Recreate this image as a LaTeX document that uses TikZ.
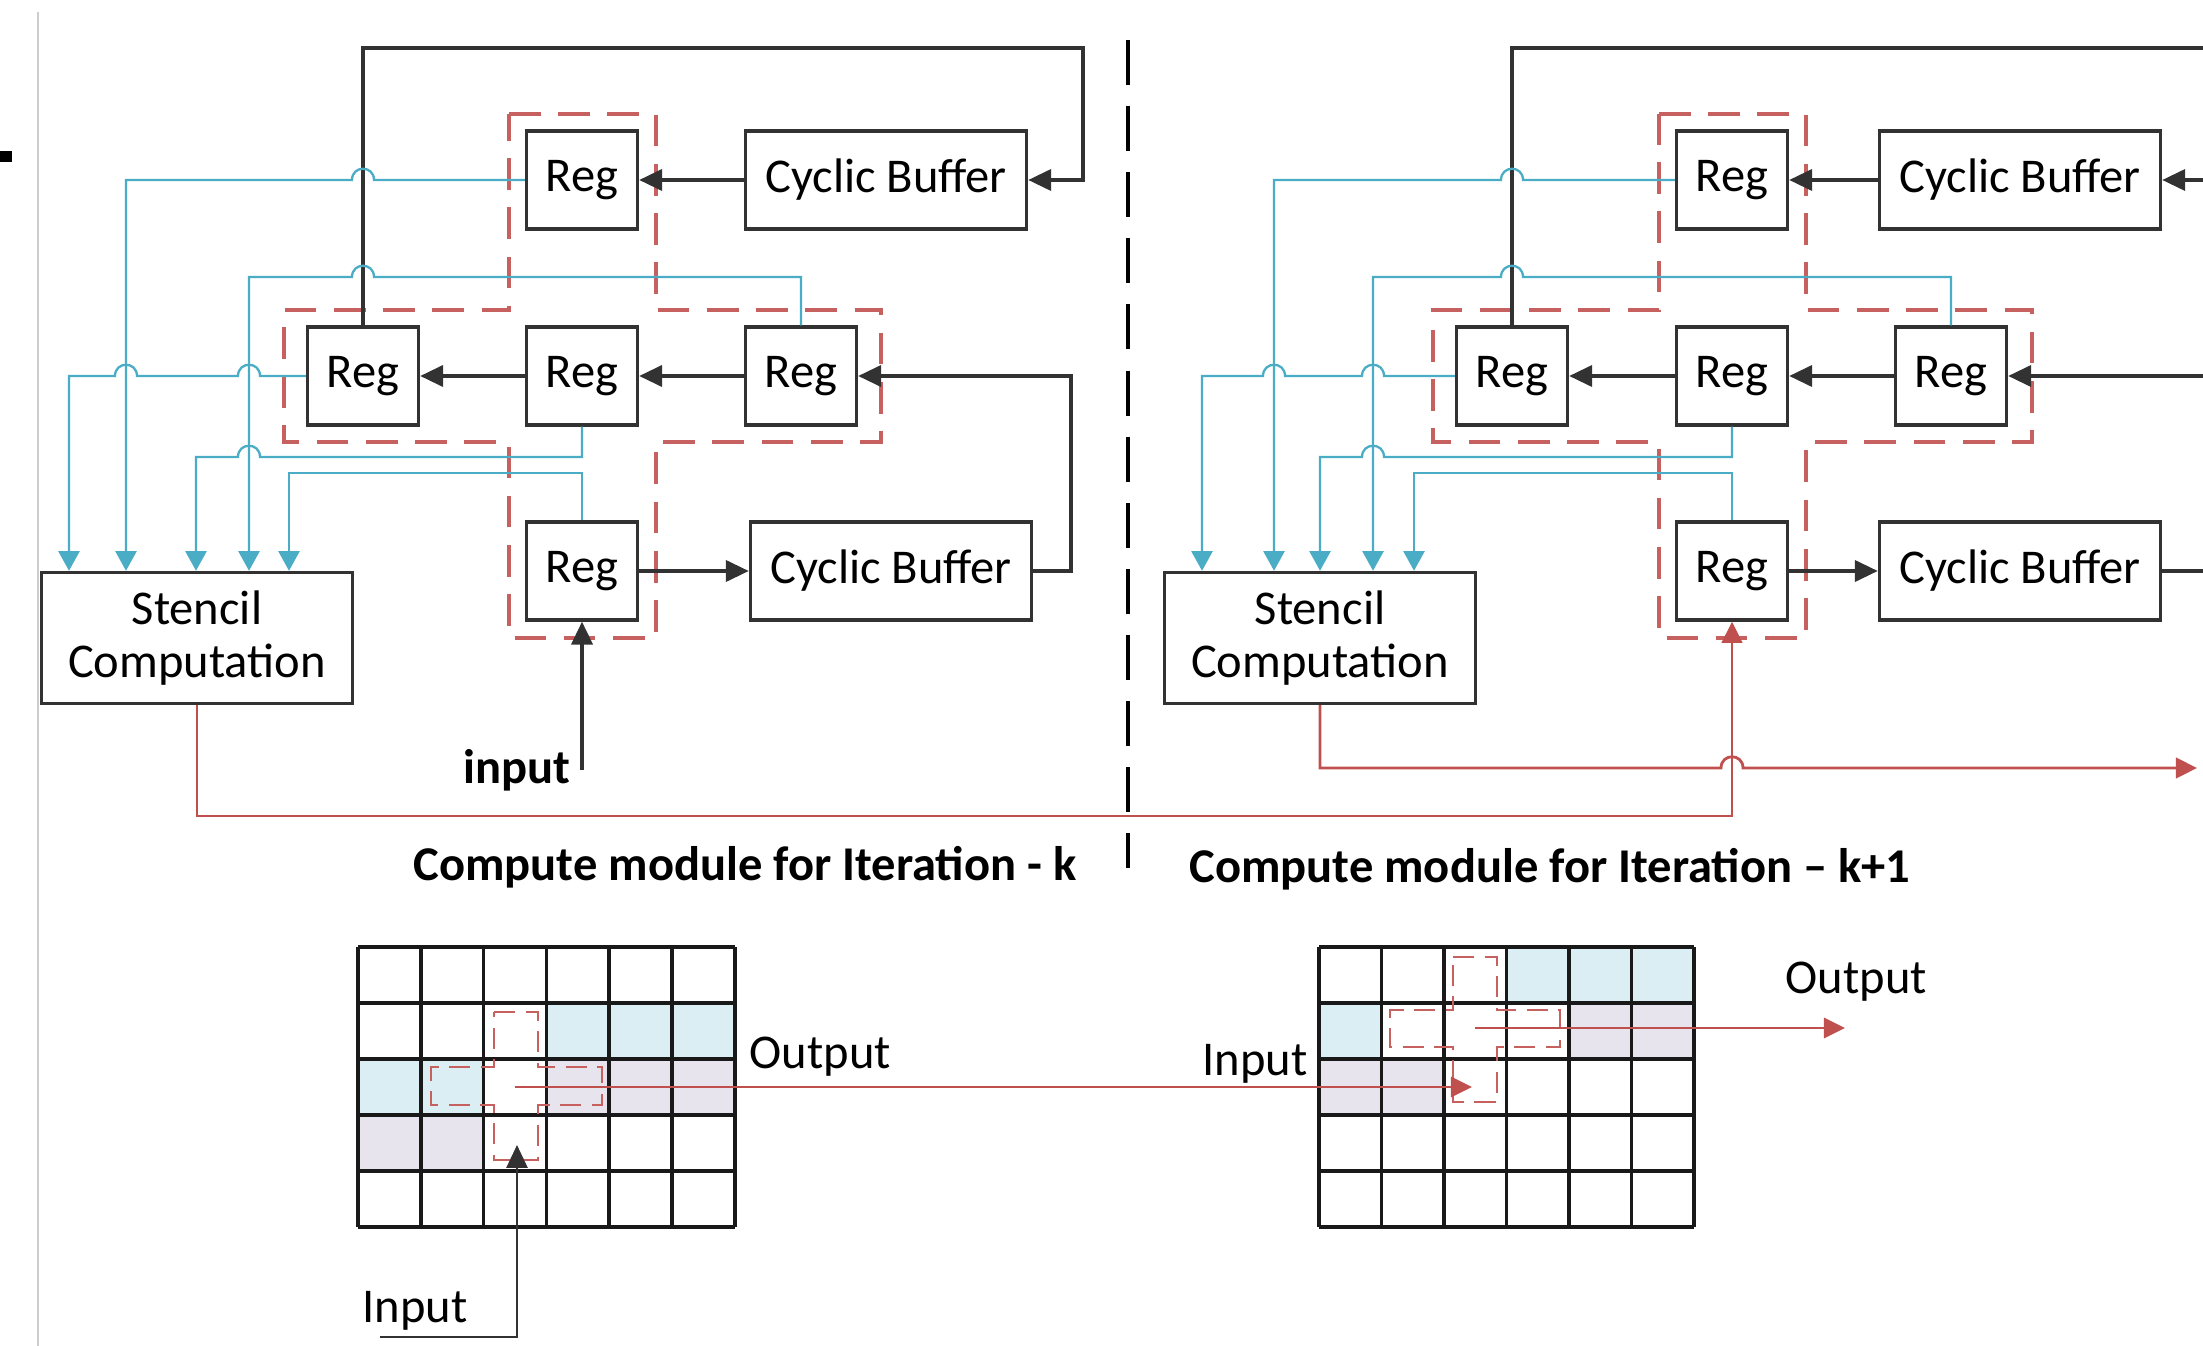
\documentclass[tikz,border=0pt]{standalone}
\usepackage{fontspec}
\setmainfont{Carlito}
\usepackage{tikz}
\usetikzlibrary{arrows.meta,positioning}

\definecolor{tapblue}{RGB}{75,172,198}
\definecolor{resred}{RGB}{192,80,77}
\definecolor{cellblue}{RGB}{218,238,243}
\definecolor{celllilac}{RGB}{232,228,238}
\definecolor{wiregray}{RGB}{50,50,50}

\newcommand{\labelsize}{\fontsize{13.8}{15.1}\selectfont}
% small bump where a line jumps over another one
\newcommand{\hopl}[2]{-- (#1+11,#2) .. controls (#1+11,#2-15) and (#1-11,#2-15) .. (#1-11,#2)}
\newcommand{\hopr}[2]{-- (#1-11,#2) .. controls (#1-11,#2-15) and (#1+11,#2-15) .. (#1+11,#2)}

\tikzset{
  regbox/.style={draw=wiregray, line width=0.95pt, minimum width=1.11cm, minimum height=0.98cm, inner sep=0pt},
  bufbox/.style={regbox, minimum width=2.81cm},
  stencilbox/.style={regbox, minimum width=3.11cm, minimum height=1.31cm, align=center},
  wire/.style={draw=wiregray, line width=0.95pt},
  dataflow/.style={wire, -{Triangle[length=6.5pt,width=6pt]}},
  tap/.style={draw=tapblue, line width=0.65pt, -{Triangle[length=5.6pt,width=6pt]}},
  result/.style={draw=resred, line width=0.8pt, -{Triangle[length=6pt,width=5.8pt]}},
  window/.style={draw=resred!90, line width=1.1pt, dash pattern=on 9pt off 5pt},
  cellwindow/.style={draw=resred!90, line width=0.7pt, dash pattern=on 6pt off 3pt},
  gridline/.style={draw=black!90, line width=1pt}
}

\begin{document}
\begin{tikzpicture}[x=0.01cm, y=-0.01cm, font=\labelsize]
  \useasboundingbox (0,0) rectangle (2203,1346);

  % page edge
  \draw[black!20, line width=0.6pt] (38,12) -- (38,1346);
  \fill (0,151) rectangle (12,162);

  % sliding windows
  \draw[window] (509,114) -- (656,114) -- (656,310) -- (881,310) -- (881,442) -- (656,442) -- (656,638)
    -- (509,638) -- (509,442) -- (284,442) -- (284,310) -- (509,310) -- cycle;
  \draw[window] (1659,114) -- (1806,114) -- (1806,310) -- (2032,310) -- (2032,442) -- (1806,442) -- (1806,638)
    -- (1659,638) -- (1659,442) -- (1433,442) -- (1433,310) -- (1659,310) -- cycle;

  % iteration k
  \node[regbox] (reg_top_k) at (582,180) {Reg};
  \node[bufbox] (buf_top_k) at (886,180) {Cyclic Buffer};
  \node[regbox] (reg_w_k) at (363,376) {Reg};
  \node[regbox] (reg_c_k) at (582,376) {Reg};
  \node[regbox] (reg_e_k) at (801,376) {Reg};
  \node[regbox] (reg_bot_k) at (582,571) {Reg};
  \node[bufbox] (buf_bot_k) at (891,571) {Cyclic Buffer};
  \node[stencilbox] (stencil_k) at (197,638) {Stencil\\Computation};
  \node[anchor=east, inner sep=0pt, font=\labelsize\bfseries] (input_k) at (571,770) {input};

  \draw[dataflow] (reg_w_k.north) |- (1083,48) |- (buf_top_k.east);
  \draw[dataflow] (buf_top_k) -- (reg_top_k);
  \draw[dataflow] (reg_c_k) -- (reg_w_k);
  \draw[dataflow] (reg_e_k) -- (reg_c_k);
  \draw[dataflow] (reg_bot_k) -- (buf_bot_k);
  \draw[dataflow] (buf_bot_k.east) -- (1071,571) |- (reg_e_k.east);
  \draw[dataflow] (input_k.east -| reg_bot_k.south) -- (reg_bot_k.south);

  \draw[tap] (reg_top_k.west) \hopl{363}{180} -| (126,0 |- stencil_k.north);
  \draw[tap] (reg_e_k.north) -- (reg_e_k.north |- 0,277) \hopl{363}{277} -| (249,0 |- stencil_k.north);
  \draw[tap] (reg_w_k.west) \hopl{249}{376} \hopl{126}{376} -| (69,0 |- stencil_k.north);
  \draw[tap] (reg_c_k.south) -- (reg_c_k.south |- 0,457) \hopl{249}{457} -| (196,0 |- stencil_k.north);
  \draw[tap] (reg_bot_k.north) -- (reg_bot_k.north |- 0,473) -| (289,0 |- stencil_k.north);

  % iteration k+1
  \node[regbox] (reg_top_n) at (1732,180) {Reg};
  \node[bufbox] (buf_top_n) at (2020,180) {Cyclic Buffer};
  \node[regbox] (reg_w_n) at (1512,376) {Reg};
  \node[regbox] (reg_c_n) at (1732,376) {Reg};
  \node[regbox] (reg_e_n) at (1951,376) {Reg};
  \node[regbox] (reg_bot_n) at (1732,571) {Reg};
  \node[bufbox] (buf_bot_n) at (2020,571) {Cyclic Buffer};
  \node[stencilbox] (stencil_n) at (1320,638) {Stencil\\Computation};
  \coordinate (feed_top_n) at (2203,48);
  \coordinate (feed_buf_n) at (2203,180);
  \coordinate (feed_row_n) at (2203,376);
  \coordinate (drain_n) at (2203,571);
  \coordinate (out_n) at (2197,768);

  \draw[wire] (reg_w_n.north) |- (feed_top_n);
  \draw[dataflow] (feed_buf_n) -- (buf_top_n.east);
  \draw[dataflow] (buf_top_n) -- (reg_top_n);
  \draw[dataflow] (reg_c_n) -- (reg_w_n);
  \draw[dataflow] (reg_e_n) -- (reg_c_n);
  \draw[dataflow] (feed_row_n) -- (reg_e_n.east);
  \draw[dataflow] (reg_bot_n) -- (buf_bot_n);
  \draw[wire] (buf_bot_n.east) -- (drain_n);

  \draw[tap] (reg_top_n.west) \hopl{1512}{180} -| (1274,0 |- stencil_n.north);
  \draw[tap] (reg_e_n.north) -- (reg_e_n.north |- 0,277) \hopl{1512}{277} -| (1373,0 |- stencil_n.north);
  \draw[tap] (reg_w_n.west) \hopl{1373}{376} \hopl{1274}{376} -| (1202,0 |- stencil_n.north);
  \draw[tap] (reg_c_n.south) -- (reg_c_n.south |- 0,457) \hopl{1373}{457} -| (1320,0 |- stencil_n.north);
  \draw[tap] (reg_bot_n.north) -- (reg_bot_n.north |- 0,473) -| (1414,0 |- stencil_n.north);

  % results
  \draw[result] (stencil_k.south) -- (stencil_k.south |- 0,816) -| (reg_bot_n.south);
  \draw[result] (stencil_n.south) -- (stencil_n.south |- 0,768) \hopr{1732}{768} -- (out_n);

  \draw[black, line width=1.3pt, dash pattern=on 12.8pt off 6pt] (1128,40) -- (1128,868);
  \node[font=\labelsize\bfseries] (title_k) at (745,867) {Compute module for Iteration - k};
  \node[font=\labelsize\bfseries] (title_n) at (1550,869) {Compute module for Iteration – k+1};

  % grids
  \foreach \r/\c in {1/3,1/4,1/5,2/0,2/1}
    \fill[cellblue] (358+\c*62.8,947+\r*56) rectangle ++(62.8,56);
  \foreach \r/\c in {2/3,2/4,2/5,3/0,3/1}
    \fill[celllilac] (358+\c*62.8,947+\r*56) rectangle ++(62.8,56);
  \foreach \r/\c in {0/3,0/4,0/5,1/0}
    \fill[cellblue] (1319+\c*62.5,947+\r*56) rectangle ++(62.5,56);
  \foreach \r/\c in {1/4,1/5,2/0,2/1}
    \fill[celllilac] (1319+\c*62.5,947+\r*56) rectangle ++(62.5,56);
  \foreach \c in {0,...,6} {
    \draw[gridline] (358+\c*62.8,947) -- (358+\c*62.8,1227);
    \draw[gridline] (1319+\c*62.5,947) -- (1319+\c*62.5,1227);
  }
  \foreach \r in {0,...,5} {
    \draw[gridline] (358,947+\r*56) -- (735,947+\r*56);
    \draw[gridline] (1319,947+\r*56) -- (1694,947+\r*56);
  }
  \draw[cellwindow] (494,1012) -- (538,1012) -- (538,1067) -- (602,1067) -- (602,1105) -- (538,1105) -- (538,1160)
    -- (494,1160) -- (494,1105) -- (431,1105) -- (431,1067) -- (494,1067) -- cycle;
  \draw[cellwindow] (1453,957) -- (1497,957) -- (1497,1010) -- (1560,1010) -- (1560,1047) -- (1497,1047) -- (1497,1102)
    -- (1453,1102) -- (1453,1047) -- (1390,1047) -- (1390,1010) -- (1453,1010) -- cycle;

  \coordinate (cell_k) at (515,1087);
  \coordinate (cell_n_in) at (1472,1087);
  \coordinate (cell_n) at (1475,1028);
  \coordinate (grid_out_n) at (1845,1028);
  \coordinate (grid_in_k) at (380,1337);
  \coordinate (grid_tip_k) at (517,1145);
  \node[anchor=west, inner sep=0pt] (out_lbl_k) at (749,1057) {Output};
  \node[anchor=west, inner sep=0pt] (in_lbl_k) at (362,1311) {Input};
  \node[anchor=east, inner sep=0pt] (in_lbl_n) at (1308,1064) {Input};
  \node[anchor=west, inner sep=0pt] (out_lbl_n) at (1785,982) {Output};

  \draw[result, line width=0.6pt] (cell_k) -- (cell_n_in);
  \draw[result, line width=0.6pt] (cell_n) -- (grid_out_n);
  \draw[dataflow, line width=0.6pt] (grid_in_k) -| (grid_tip_k);
\end{tikzpicture}
\end{document}
